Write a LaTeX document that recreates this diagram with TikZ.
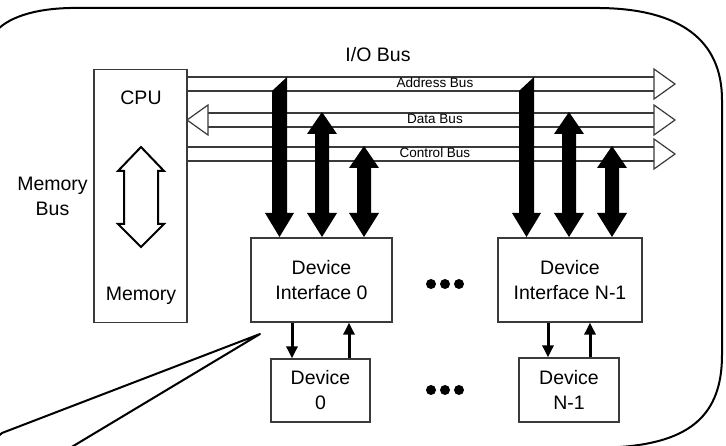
\documentclass[tikz,border=0pt]{standalone}
\usepackage{fontspec}
\setmainfont{Liberation Sans}
\usetikzlibrary{arrows.meta}
\definecolor{boxgray}{HTML}{3A3A3A}
\newcommand{\ioAddrArrow}[1]{\fill ({#1-7.5},91) -- ({#1+7.5},77) -- ({#1+7.5},213) -- ({#1+14.5},213) -- (#1,237) -- ({#1-14.5},213) -- ({#1-7.5},213) -- cycle;}
\newcommand{\ioBiArrow}[3]{\fill (#1,#2) -- ({#1+15},#3) -- ({#1+7},#3) -- ({#1+7},213) -- ({#1+15},213) -- (#1,237) -- ({#1-15},213) -- ({#1-7},213) -- ({#1-7},#3) -- ({#1-15},#3) -- cycle;}
\begin{document}
\begin{tikzpicture}[x=1pt,y=-1pt,
  bigtxt/.style={font=\fontsize{19.5}{25}\selectfont,align=center,inner sep=0pt},
  smalltxt/.style={font=\fontsize{13.5}{15}\selectfont,inner sep=0pt},
  unitbox/.style={draw=boxgray,line width=1.3pt,inner sep=0pt,font=\fontsize{19.5}{25}\selectfont,align=center},
  busline/.style={draw=boxgray,line width=1.2pt},
  hollowhead/.style={draw=boxgray,line width=1.2pt,fill=white},
  thinarrow/.style={line width=3pt,-{Triangle[width=11pt,length=12pt]}},
  outline/.style={line width=2pt,line join=round}]
\useasboundingbox (0,0) rectangle (726,446);
\clip (0,0) rectangle (726,446);
\fill[white] (0,0) rectangle (726,446);

% callout outline
\draw[outline] (-6,34) .. controls (2,22) and (25,9) .. (70,8) -- (600,8)
  .. controls (680,9) and (722,40) .. (722,100) -- (722,355)
  .. controls (722,415) and (690,442) .. (620,447) -- (70,448)
  -- (260,334) -- (2,433) -- (-6,440);

% CPU / memory box
\node[unitbox,minimum width=93pt,minimum height=253pt] (cpu) at (140.5,196) {};
\node[bigtxt] (cputxt) at (141,98) {CPU};
\node[bigtxt] (memtxt) at (141,296) {Memory};
\node[bigtxt] (membus) at (52.5,196) {Memory\\Bus};
\draw[line width=2pt,line join=miter] (141,147) -- (118,171) -- (124,171) -- (124,224) -- (118,224)
  -- (141,247) -- (164,224) -- (158,224) -- (158,171) -- (164,171) -- cycle;

% I/O bus
\node[bigtxt] (iobus) at (378,55) {I/O Bus};
\coordinate (a1) at (187,77);  \coordinate (a1e) at (654,77);
\coordinate (a2) at (187,91);  \coordinate (a2e) at (654,91);
\coordinate (d1) at (208,113); \coordinate (d1e) at (654,113);
\coordinate (d2) at (208,127); \coordinate (d2e) at (654,127);
\coordinate (c1) at (187,147); \coordinate (c1e) at (654,147);
\coordinate (c2) at (187,161); \coordinate (c2e) at (654,161);
\draw[busline] (a1) -- (a1e) (a2) -- (a2e) (d1) -- (d1e) (d2) -- (d2e) (c1) -- (c1e) (c2) -- (c2e);
\draw[hollowhead] (654,69) -- (675,84) -- (654,99) -- cycle;
\draw[hollowhead] (654,105) -- (675,120) -- (654,135) -- cycle;
\draw[hollowhead] (654,139) -- (675,154) -- (654,169) -- cycle;
\draw[hollowhead] (208,105) -- (187,120) -- (208,135) -- cycle;
\node[smalltxt] (abl) at (435,83) {Address Bus};
\node[smalltxt] (dbl) at (435,119) {Data Bus};
\node[smalltxt] (cbl) at (435,153) {Control Bus};

% device interfaces and devices
\node[unitbox,minimum width=141pt,minimum height=84pt] (di0) at (321.5,280) {Device\\Interface 0};
\node[unitbox,minimum width=144pt,minimum height=84pt] (din) at (570,280) {Device\\Interface N-1};
\node[unitbox,minimum width=99pt,minimum height=63pt] (dv0) at (320.5,390.5) {Device\\0};
\node[unitbox,minimum width=100pt,minimum height=64pt] (dvn) at (569,390) {Device\\N-1};

% thick bus arrows
\ioAddrArrow{279.5}
\ioBiArrow{322}{112}{134}
\ioBiArrow{364}{146}{168}
\ioAddrArrow{526.5}
\ioBiArrow{569}{112}{134}
\ioBiArrow{612}{146}{168}

% thin arrows between interface and device
\draw[thinarrow] ([xshift=-29.5pt]di0.south) -- ([xshift=-28.5pt]dv0.north);
\draw[thinarrow] ([xshift=28.5pt]dv0.north) -- ([xshift=27.5pt]di0.south);
\draw[thinarrow] ([xshift=-22pt]din.south) -- ([xshift=-21pt]dvn.north);
\draw[thinarrow] ([xshift=21pt]dvn.north) -- ([xshift=20pt]din.south);

% ellipsis dots
\foreach \yy/\nm in {284/u,390/l}{
  \foreach \xx/\k in {431/1,445/2,459/3}{
    \fill (\xx,\yy) circle (5pt);
  }
}
\end{tikzpicture}
\end{document}
